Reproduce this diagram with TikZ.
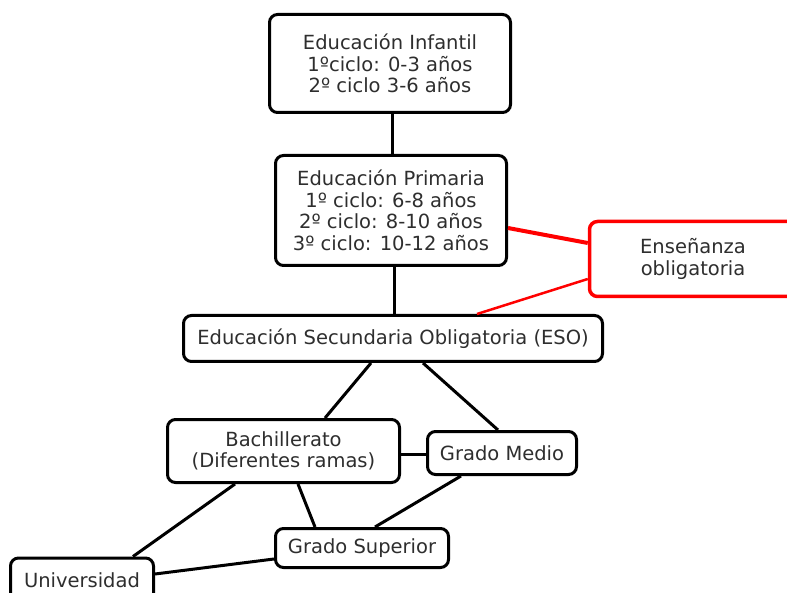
\documentclass[tikz,border=0pt]{standalone}
\usepackage{fontspec}
\setmainfont{DejaVu Sans}
\begin{document}
\begin{tikzpicture}[x=1pt,y=-1pt,
  box/.style={draw=black, rectangle, rounded corners=8pt, line width=3pt, fill=white,
    align=center, text=black!82, inner sep=0pt, font=\fontsize{19.5pt}{21.5pt}\selectfont},
  redbox/.style={box, draw=red, line width=3.5pt},
  conn/.style={line width=3pt, draw=black},
  redconn/.style={line width=4pt, draw=red}]
\clip (0,0) rectangle (787,593);
\fill[white] (0,0) rectangle (787,593);

\node[box, minimum width=241pt, minimum height=98pt] (inf) at (390,63.5)
  {Educación Infantil\\1ºciclo: 0-3 años\\2º ciclo 3-6 años};
\node[box, minimum width=231pt, minimum height=110pt] (prim) at (391,210.5)
  {Educación Primaria\\1º ciclo: 6-8 años\\2º ciclo: 8-10 años\\3º ciclo: 10-12 años};
\node[redbox, minimum width=207pt, minimum height=75pt] (ens) at (693,259)
  {Enseñanza\\obligatoria};
\node[box, minimum width=419pt, minimum height=46pt] (eso) at (393,338.5)
  {Educación Secundaria Obligatoria (ESO)};
\node[box, minimum width=232pt, minimum height=63pt] (bach) at (283.5,451)
  {Bachillerato\\(Diferentes ramas)};
\node[box, minimum width=149pt, minimum height=43pt] (gm) at (502,453)
  {Grado Medio};
\node[box, minimum width=173pt, minimum height=39pt] (gs) at (362,548)
  {Grado Superior};
\node[box, minimum width=143pt, minimum height=44pt] (univ) at (82,580)
  {Universidad};

\draw[conn] ([xshift=2pt]inf.south) -- ([xshift=1pt]prim.north);
\draw[conn] ([xshift=3pt]prim.south) -- ([xshift=1pt]eso.north);
\draw[redconn] ([yshift=-17.5pt]prim.east) -- ([yshift=16pt]ens.west);
\draw[redconn, line width=2.5pt] ([xshift=84pt]eso.north) -- ([yshift=-20pt]ens.west);
\draw[conn] ([xshift=-22pt]eso.south) -- ([xshift=41.5pt]bach.north);
\draw[conn] ([xshift=30pt]eso.south) -- ([xshift=-4pt]gm.north);
\draw[conn] ([yshift=-3pt]bach.east) -- ([yshift=-1pt]gm.west);
\draw[conn] ([xshift=-48.5pt]bach.south) -- ([xshift=51pt]univ.north);
\draw[conn] ([xshift=14.5pt]bach.south) -- ([xshift=-47pt]gs.north);
\draw[conn] ([xshift=-41pt]gm.south) -- ([xshift=13pt]gs.north);
\draw[conn] ([yshift=6pt]univ.east) -- ([yshift=-11pt]gs.west);
\end{tikzpicture}
\end{document}
